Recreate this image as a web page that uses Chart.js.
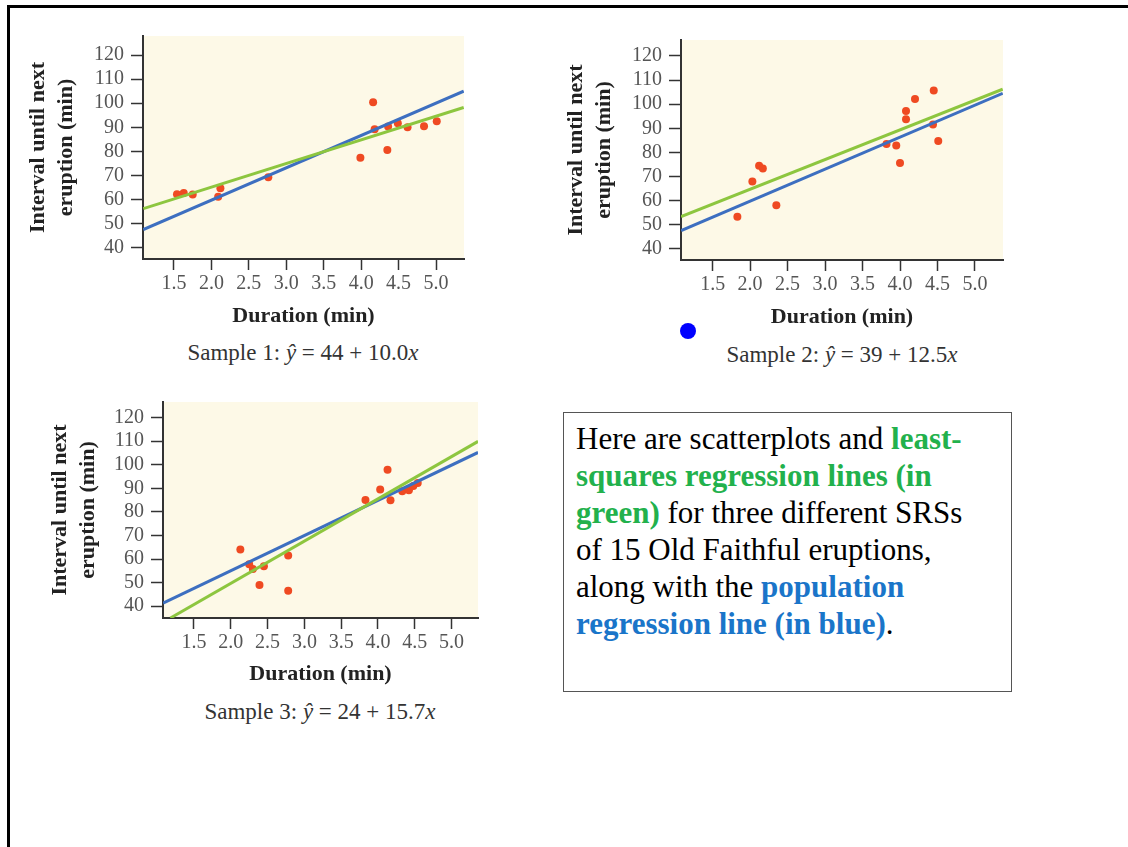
<!DOCTYPE html>
<html>
<head>
<meta charset="utf-8">
<script src="https://cdn.jsdelivr.net/npm/chart.js@4.4.1/dist/chart.umd.min.js"></script>
<style>
  html, body { margin: 0; padding: 0; background: #fff; overflow: hidden; }
  body { width: 1128px; height: 847px; position: relative; font-family: "Liberation Serif", "DejaVu Serif", serif; }
  .frame { position: absolute; left: 7px; top: 5px; width: 1300px; height: 1000px; border: 3px solid #000; box-sizing: border-box; }
  .plot { position: absolute; }
  .caption { position: absolute; width: 400px; text-align: center; font-size: 23px; color: #333; line-height: 26px; white-space: nowrap; }
  .note { position: absolute; left: 563px; top: 412px; width: 449px; height: 280px; box-sizing: border-box;
          border: 1.5px solid #555; padding: 7px 0 0 12px; font-size: 31px; line-height: 37px; color: #000; }
  .g { color: #22b14c; font-weight: bold; }
  .b { color: #1a75c9; font-weight: bold; }
  .dot { position: absolute; left: 680px; top: 323px; width: 16px; height: 16px; border-radius: 50%; background: #0000ff; }
</style>
</head>
<body>
<div class="frame"></div>

<div class="plot" style="left:20px;top:30px;width:450px;height:304px"><canvas id="c1"></canvas></div>
<div class="plot" style="left:560px;top:34px;width:449px;height:301px"><canvas id="c2"></canvas></div>
<div class="plot" style="left:40px;top:396px;width:444px;height:296px"><canvas id="c3"></canvas></div>

<div class="caption" style="left:103px;top:340px">Sample 1: <i>ŷ</i> = 44 + 10.0<i>x</i></div>
<div class="caption" style="left:642px;top:342px">Sample 2: <i>ŷ</i> = 39 + 12.5<i>x</i></div>
<div class="caption" style="left:120px;top:699px">Sample 3: <i>ŷ</i> = 24 + 15.7<i>x</i></div>

<div class="dot"></div>

<div class="note">Here are scatterplots and <span class="g">least-<br>squares regression lines (in<br>green)</span> for three different SRSs<br>of 15 Old Faithful eruptions,<br>along with the <span class="b">population<br>regression line (in blue)</span>.</div>

<script>
// tick labels shared by all three plots
var xTicks = [1.5, 2.0, 2.5, 3.0, 3.5, 4.0, 4.5, 5.0];
var yTicks = [40, 50, 60, 70, 80, 90, 100, 110, 120];

// sample 1
var duration1 = [1.54, 1.63, 1.75, 2.09, 2.12, 2.76, 3.99, 4.16, 4.18, 4.35, 4.36, 4.49, 4.62, 4.84, 5.01];
var interval1 = [62.2, 62.7, 62.1, 61.1, 64.7, 69.2, 77.3, 100.4, 89.2, 80.6, 90.3, 91.7, 90.0, 90.4, 92.5];
var fitX1 = [1.09, 5.37], fitY1 = [56.2, 98.2];
var popX1 = [1.09, 5.37], popY1 = [47.5, 105.0];

// sample 2
var duration2 = [1.83, 2.03, 2.12, 2.17, 2.35, 3.82, 3.95, 4.00, 4.08, 4.08, 4.20, 4.45, 4.44, 4.51];
var interval2 = [53.3, 67.9, 74.5, 73.3, 58.1, 83.5, 82.9, 75.6, 97.2, 93.7, 102.1, 105.7, 91.6, 84.7];
var fitX2 = [1.08, 5.37], fitY2 = [53.4, 106.2];
var popX2 = [1.08, 5.37], popY2 = [47.6, 104.5];

// sample 3
var duration3 = [2.13, 2.25, 2.30, 2.45, 2.39, 2.78, 2.78, 3.83, 4.03, 4.13, 4.17, 4.33, 4.42, 4.48, 4.54];
var interval3 = [64.0, 57.8, 55.8, 56.9, 49.0, 61.5, 46.6, 85.0, 89.5, 97.9, 84.9, 88.7, 89.2, 91.0, 92.2];
var fitX3 = [1.18, 5.36], fitY3 = [35.0, 109.9];
var popX3 = [1.08, 5.36], popY3 = [41.3, 105.2];

var serif = '"Liberation Serif", "DejaVu Serif", serif';

var plotBg = {
  id: 'plotBg',
  beforeDraw: function (chart) {
    var a = chart.chartArea, ctx = chart.ctx;
    ctx.save();
    ctx.fillStyle = '#fdf9e7';
    ctx.fillRect(a.left, a.top, a.right - a.left, a.bottom - a.top);
    ctx.restore();
  }
};

function pts(xs, ys) {
  return xs.map(function (x, i) { return { x: x, y: ys[i] }; });
}

function makePlot(id, d, layout) {
  new Chart(document.getElementById(id), {
    type: 'scatter',
    data: {
      datasets: [
        { data: pts(d.fitX, d.fitY), showLine: true, borderColor: '#8dc63f', borderWidth: 3, pointRadius: 0 },
        { data: pts(d.popX, d.popY), showLine: true, borderColor: '#3d6fc0', borderWidth: 3, pointRadius: 0 },
        { data: pts(d.x, d.y), backgroundColor: '#ef4a22', borderWidth: 0, pointRadius: 4 }
      ]
    },
    options: {
      responsive: true,
      maintainAspectRatio: false,
      animation: false,
      events: [],
      layout: { padding: { top: layout.padTop, right: layout.padRight, left: 0, bottom: 0 } },
      plugins: { legend: { display: false }, tooltip: { enabled: false } },
      scales: {
        x: {
          type: 'linear',
          min: layout.xMin, max: layout.xMax,
          afterBuildTicks: function (s) { s.ticks = xTicks.map(function (v) { return { value: v }; }); },
          afterFit: function (s) { s.height = layout.xHeight; s.paddingLeft = 0; s.paddingRight = 0; },
          grid: { drawOnChartArea: false, drawTicks: true, tickLength: 11, tickWidth: 1.5, tickColor: '#333' },
          border: { display: true, color: '#333', width: 2 },
          ticks: { font: { family: serif, size: 20 }, color: '#555', padding: 2, maxRotation: 0,
                   callback: function (v) { return v.toFixed(1); } },
          title: { display: true, text: 'Duration (min)', color: '#222',
                   font: { family: serif, size: 22, weight: 'bold' }, padding: { top: 0, bottom: 4 } }
        },
        y: {
          type: 'linear',
          min: layout.yMin, max: layout.yMax,
          afterBuildTicks: function (s) { s.ticks = yTicks.map(function (v) { return { value: v }; }); },
          afterFit: function (s) { s.width = layout.yWidth; s.paddingTop = 0; s.paddingBottom = 0; },
          grid: { drawOnChartArea: false, drawTicks: true, tickLength: 12, tickWidth: 1.5, tickColor: '#333' },
          border: { display: true, color: '#333', width: 2 },
          ticks: { font: { family: serif, size: 20 }, color: '#555', padding: 7 },
          title: { display: true, text: ['Interval until next', 'eruption (min)'], color: '#222',
                   font: { family: serif, size: 22, weight: 'bold', lineHeight: 28 / 22 },
                   padding: { top: layout.yTitlePad, bottom: 0 } }
        }
      }
    },
    plugins: [plotBg]
  });
}

makePlot('c1', { x: duration1, y: interval1, fitX: fitX1, fitY: fitY1, popX: popX1, popY: popY1 },
  { padTop: 6, padRight: 6, xHeight: 75, yWidth: 123, yTitlePad: 4.5,
    xMin: 1.086, xMax: 5.374, yMin: 35.3, yMax: 127.9 });
makePlot('c2', { x: duration2, y: interval2, fitX: fitX2, fitY: fitY2, popX: popX2, popY: popY2 },
  { padTop: 6, padRight: 6, xHeight: 75, yWidth: 121, yTitlePad: 2.7,
    xMin: 1.078, xMax: 5.374, yMin: 35.4, yMax: 126.6 });
makePlot('c3', { x: duration3, y: interval3, fitX: fitX3, fitY: fitY3, popX: popX3, popY: popY3 },
  { padTop: 6, padRight: 6, xHeight: 74, yWidth: 123, yTitlePad: 6,
    xMin: 1.079, xMax: 5.359, yMin: 35.0, yMax: 126.6 });
</script>
</body>
</html>
